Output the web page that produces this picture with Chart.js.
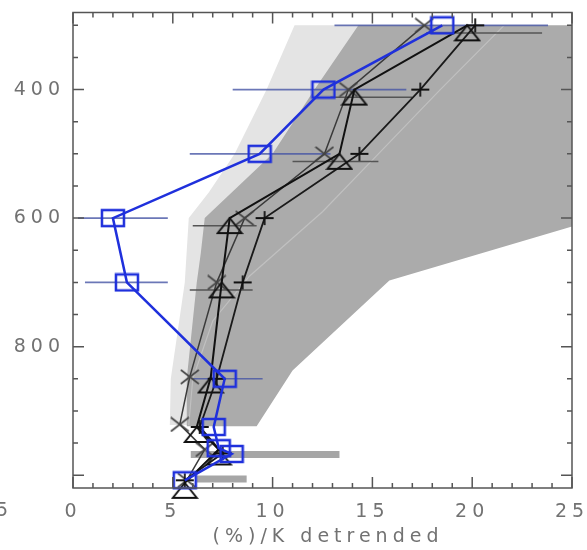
<!DOCTYPE html>
<html>
<head>
<meta charset="utf-8">
<script src="https://cdn.jsdelivr.net/npm/chart.js@4.4.0/dist/chart.umd.min.js"></script>
<style>
  html, body { margin: 0; padding: 0; background: #fff; }
</style>
</head>
<body>
<canvas id="myChart" width="587" height="550"></canvas>
<script>
// tick labels
const xTicks = [0, 5, 10, 15, 20, 25];
const yTicks = [400, 600, 800];

// blue squares
const blueP = [300, 400, 500, 600, 700, 850, 925, 958, 967, 1008];
const blueX = [18.5, 12.55, 9.35, 2.0, 2.7, 7.6, 7.05, 7.3, 7.95, 5.6];
const blueErrP = [300, 400, 500, 600, 700, 850];
const blueErrLo = [13.1, 8.0, 5.85, 0.25, 0.6, 6.0];
const blueErrHi = [23.8, 16.7, 12.9, 4.75, 4.75, 9.5];

// black triangles
const triP = [300, 400, 500, 600, 700, 848, 925, 960, 1012];
const triX = [19.75, 14.1, 13.35, 7.85, 7.45, 6.9, 6.2, 7.3, 5.6];
const triErrP = [312, 412, 512, 612, 712];
const triErrLo = [17.7, 12.9, 11.0, 6.0, 5.85];
const triErrHi = [23.5, 17.0, 15.3, 9.2, 9.0];

// crosses
const crossP = [300, 400, 500, 600, 700, 847, 921, 960, 1008];
const crossX = [17.6, 13.8, 12.6, 8.6, 7.2, 5.85, 5.35, 6.6, 5.7];

// plus signs
const plusP = [300, 400, 500, 600, 700, 850, 925, 966, 1008];
const plusX = [20.15, 17.4, 14.35, 9.6, 8.5, 7.2, 6.35, 7.5, 5.6];

// light grey range
const lightLeftP = [300, 400, 500, 560, 600, 700, 850, 922];
const lightLeftX = [11.1, 9.7, 8.1, 6.8, 5.8, 5.6, 4.9, 4.85];
const lightRightP = [300, 400, 500, 590, 690, 760, 850, 922];
const lightRightX = [21.6, 18.4, 15.3, 12.5, 8.85, 7.0, 6.0, 5.8];

// dark grey range
const darkLeftP = [300, 400, 500, 600, 655, 700, 850, 924];
const darkLeftX = [14.3, 12.1, 10.0, 6.6, 6.4, 6.2, 5.7, 5.7];
const darkRightP = [300, 613, 697, 837, 924];
const darkRightX = [26, 25, 15.85, 11.0, 9.2];

// single-level grey bars near the surface
const barP = [968, 1006];
const barLo = [5.9, 6.2];
const barHi = [13.35, 8.7];

function pts(ps, xs) {
    return ps.map((p, i) => ({x: xs[i], y: p}));
}

function polygon(lp, lx, rp, rx) {
    return pts(lp, lx).concat(pts(rp, rx).reverse());
}

function marker(w, h, draw) {
    const c = document.createElement('canvas');
    c.width = w;
    c.height = h;
    const g = c.getContext('2d');
    draw(g, w, h);
    return c;
}

const squareMark = marker(26, 20, (g, w, h) => {
    g.strokeStyle = '#1f30dc';
    g.lineWidth = 2.5;
    g.strokeRect(2, 2, w - 4, h - 4);
});

const triMark = marker(28, 36, (g, w, h) => {
    g.strokeStyle = '#111';
    g.lineWidth = 2;
    g.beginPath();
    g.moveTo(w / 2, h / 2);
    g.lineTo(w - 2, h - 3);
    g.lineTo(2, h - 3);
    g.closePath();
    g.stroke();
});

const crossMark = marker(20, 16, (g, w, h) => {
    g.strokeStyle = '#444';
    g.lineWidth = 1.6;
    g.beginPath();
    g.moveTo(1, 1); g.lineTo(w - 1, h - 1);
    g.moveTo(w - 1, 1); g.lineTo(1, h - 1);
    g.stroke();
});

const plusMark = marker(20, 16, (g, w, h) => {
    g.strokeStyle = '#111';
    g.lineWidth = 1.8;
    g.beginPath();
    g.moveTo(1, h / 2); g.lineTo(w - 1, h / 2);
    g.moveTo(w / 2, 1); g.lineTo(w / 2, h - 1);
    g.stroke();
});

function hBars(ps, lo, hi, color, width, order) {
    return ps.map((p, i) => ({
        data: [{x: lo[i], y: p}, {x: hi[i], y: p}],
        showLine: true,
        borderColor: color,
        borderWidth: width,
        pointRadius: 0,
        order: order
    }));
}

function profile(ps, xs, color, width, style, order) {
    return {
        data: pts(ps, xs),
        showLine: true,
        borderColor: color,
        borderWidth: width,
        pointStyle: style,
        pointRadius: 10,
        clip: false,
        order: order
    };
}

const tickFont = {family: 'DejaVu Sans', size: 19};
const tickColor = '#727272';

const frame = {
    id: 'frame',
    beforeDraw(chart) {
        chart.ctx.letterSpacing = '5px';
    },
    afterDatasetsDraw(chart) {
        const {ctx, chartArea: a, scales: {x, y}} = chart;
        ctx.save();
        ctx.strokeStyle = '#555';
        ctx.lineWidth = 1.5;
        ctx.strokeRect(a.left, a.top, a.right - a.left, a.bottom - a.top);
        ctx.beginPath();
        for (let v = 0; v <= 25; v++) {
            const px = x.getPixelForValue(v);
            const len = v % 5 === 0 ? 11 : 5;
            ctx.moveTo(px, a.bottom); ctx.lineTo(px, a.bottom - len);
            ctx.moveTo(px, a.top); ctx.lineTo(px, a.top + len);
        }
        for (let p = 300; p <= 1000; p += 50) {
            const py = y.getPixelForValue(p);
            const len = p % 200 === 0 ? 11 : 5;
            ctx.moveTo(a.left, py); ctx.lineTo(a.left + len, py);
            ctx.moveTo(a.right, py); ctx.lineTo(a.right - len, py);
        }
        ctx.stroke();
        ctx.restore();
    },
    afterDraw(chart) {
        const ctx = chart.ctx;
        ctx.save();
        ctx.letterSpacing = '0px';
        ctx.font = '19px "DejaVu Sans"';
        ctx.fillStyle = tickColor;
        ctx.textAlign = 'right';
        ctx.textBaseline = 'middle';
        ctx.fillText('5', 8, 511);
        ctx.restore();
        ctx.letterSpacing = '0px';
    }
};

const ctx = document.getElementById('myChart');

new Chart(ctx, {
    type: 'scatter',
    data: {
        datasets: [
            {
                data: polygon(lightLeftP, lightLeftX, lightRightP, lightRightX),
                showLine: true, fill: 'shape', backgroundColor: '#e4e4e4',
                borderWidth: 0, pointRadius: 0, order: 100
            },
            {
                data: polygon(darkLeftP, darkLeftX, darkRightP, darkRightX),
                showLine: true, fill: 'shape', backgroundColor: '#ababab',
                borderWidth: 0, pointRadius: 0, order: 99
            },
            {
                data: pts(lightRightP, lightRightX),
                showLine: true, borderColor: '#c0c0c0', borderWidth: 1.2,
                pointRadius: 0, order: 98
            },
            ...hBars(barP, barLo, barHi, '#a6a6a6', 7, 97),
            ...hBars(blueErrP, blueErrLo, blueErrHi, 'rgba(70,85,165,0.8)', 1.6, 90),
            ...hBars(triErrP, triErrLo, triErrHi, '#555', 1.5, 89),
            profile(crossP, crossX, '#3a3a3a', 1.5, crossMark, 60),
            profile(plusP, plusX, '#1a1a1a', 1.8, plusMark, 59),
            profile(triP, triX, '#111', 2, triMark, 58),
            profile(blueP, blueX, '#1f30dc', 2.5, squareMark, 10)
        ]
    },
    options: {
        responsive: false,
        animation: false,
        layout: { padding: { top: 5, right: 15, left: 0, bottom: 0 } },
        plugins: {
            legend: { display: false },
            tooltip: { enabled: false }
        },
        scales: {
            x: {
                type: 'linear',
                min: 0,
                max: 25,
                afterFit: s => {
                    s.height = 62;
                    s.paddingLeft = 0;
                    s.paddingRight = 0;
                },
                afterBuildTicks: s => { s.ticks = xTicks.map(v => ({value: v})); },
                grid: { display: false, drawTicks: false },
                border: { display: false },
                ticks: { font: tickFont, color: tickColor, padding: 13, maxRotation: 0 },
                title: {
                    display: true,
                    text: ' (%)/K detrended',
                    font: tickFont,
                    color: tickColor,
                    padding: { top: 0, bottom: 2 }
                }
            },
            y: {
                type: 'linear',
                reverse: true,
                min: 280,
                max: 1020,
                afterFit: s => {
                    s.width = 73;
                    s.paddingTop = 0;
                    s.paddingBottom = 0;
                },
                afterBuildTicks: s => { s.ticks = yTicks.map(v => ({value: v})); },
                grid: { display: false, drawTicks: false },
                border: { display: false },
                ticks: { font: tickFont, color: tickColor, padding: 8 }
            }
        }
    },
    plugins: [frame]
});
</script>
</body>
</html>
